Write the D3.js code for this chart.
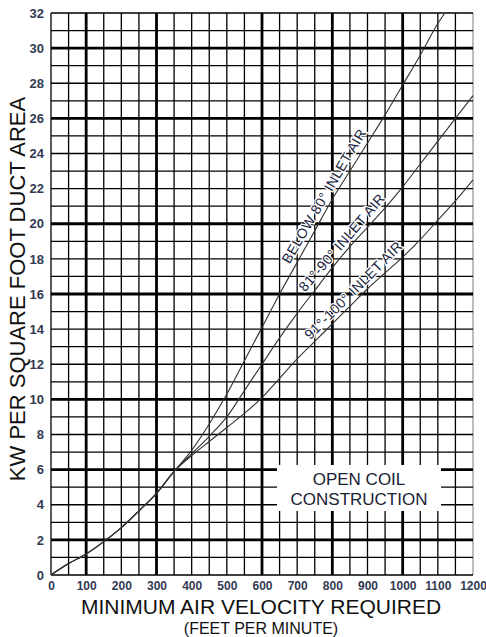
<!DOCTYPE html>
<html>
<head>
<meta charset="utf-8">
<script src="https://cdn.jsdelivr.net/npm/d3@7"></script>
<style>
  body { margin: 0; background: #fff; }
  text { font-family: "Liberation Sans", Arial, sans-serif; }
</style>
</head>
<body>
<div id="chart"></div>
<script>
// chart values
var velocityTicks = [0, 100, 200, 300, 400, 500, 600, 700, 800, 900, 1000, 1100, 1200];
var kwTicks = [0, 2, 4, 6, 8, 10, 12, 14, 16, 18, 20, 22, 24, 26, 28, 30, 32];
var heavyVelocity = [100, 300, 600, 800, 1000];
var heavyKw = [2, 6, 10, 16, 20, 26, 30];

// shared part of the three curves (ft/min, kW per sq ft)
var commonVel = [0, 50, 100, 150, 200, 250, 300, 350];
var commonKw = [0, 0.65, 1.2, 1.9, 2.7, 3.65, 4.65, 5.9];

var below80Vel = [350, 400, 450, 500, 550, 600, 650, 700, 750, 800, 850, 900, 950, 1000, 1050, 1100, 1120];
var below80Kw = [5.9, 7.1, 8.6, 10.3, 12.2, 14.1, 16.0, 17.8, 19.6, 21.4, 23.0, 24.6, 26.2, 27.9, 29.6, 31.4, 32];

var mid81Vel = [350, 400, 450, 500, 550, 600, 650, 700, 750, 800, 850, 900, 950, 1000, 1050, 1100, 1150, 1200];
var mid81Kw = [5.9, 6.9, 7.9, 9.0, 10.5, 12.0, 13.5, 14.9, 16.2, 17.5, 18.7, 19.8, 20.9, 22.1, 23.4, 24.7, 26.0, 27.3];

var high91Vel = [350, 400, 450, 500, 550, 600, 650, 700, 750, 800, 850, 900, 950, 1000, 1050, 1100, 1150, 1200];
var high91Kw = [5.9, 6.8, 7.6, 8.4, 9.2, 10.1, 11.2, 12.3, 13.3, 14.3, 15.3, 16.3, 17.2, 18.1, 19.1, 20.2, 21.3, 22.5];

var curveNames = ["BELOW 80\u00b0 INLET AIR", "81\u00b0-90\u00b0 INLET AIR", "91\u00b0-100\u00b0 INLET AIR"];
var boxLines = ["OPEN COIL", "CONSTRUCTION"];

// layout
var width = 486, height = 637;
var plotL = 51, plotR = 473, plotT = 13, plotB = 575;
var labelAt = [798, 846, 878];   // velocity at middle of each curve label

var svg = d3.select("#chart")
  .append("svg")
  .attr("width", width)
  .attr("height", height);

svg.append("rect").attr("width", width).attr("height", height).attr("fill", "#fff");

var x = d3.scaleLinear().domain([0, 1200]).range([plotL, plotR]);
var y = d3.scaleLinear().domain([0, 32]).range([plotB, plotT]);

// grid - light lines every 50 ft/min and 1 kW, heavy ones picked out
var grid = svg.append("g").attr("class", "grid");

grid.selectAll("line.v")
  .data(d3.range(0, 1201, 50))
  .enter().append("line")
  .attr("class", "v")
  .attr("x1", d => x(d)).attr("x2", d => x(d))
  .attr("y1", y(0)).attr("y2", y(32))
  .attr("stroke", d => d == 1200 ? "#999" : "#000")
  .attr("stroke-width", d => heavyVelocity.indexOf(d) >= 0 ? 2.8 : 1.3);

grid.selectAll("line.h")
  .data(d3.range(0, 33, 1))
  .enter().append("line")
  .attr("class", "h")
  .attr("y1", d => y(d)).attr("y2", d => y(d))
  .attr("x1", x(0)).attr("x2", x(1200))
  .attr("stroke", "#000")
  .attr("stroke-width", d => heavyKw.indexOf(d) >= 0 ? 2.8 : 1.3);

// note box covers the grid
svg.append("rect")
  .attr("x", 277).attr("y", 465)
  .attr("width", 164).attr("height", 46)
  .attr("fill", "#fff");

svg.selectAll("text.box")
  .data(boxLines)
  .enter().append("text")
  .attr("class", "box")
  .attr("x", 359)
  .attr("y", (d, i) => 485 + i * 20)
  .attr("text-anchor", "middle")
  .attr("font-size", 17)
  .attr("fill", "#1b2233")
  .text(d => d);

// axes (labels only, the grid does the lines)
var xAxis = svg.append("g")
  .attr("transform", "translate(0," + (plotB + 4) + ")")
  .call(d3.axisBottom(x).tickValues(velocityTicks).tickFormat(d3.format("d")).tickSize(0).tickPadding(2));
var yAxis = svg.append("g")
  .attr("transform", "translate(" + (plotL - 5) + ",0)")
  .call(d3.axisLeft(y).tickValues(kwTicks).tickFormat(d3.format("d")).tickSize(0).tickPadding(2));

[xAxis, yAxis].forEach(function(a) {
  a.select(".domain").remove();
  a.selectAll("text")
    .attr("font-family", "'Liberation Sans', Arial, sans-serif")
    .attr("font-size", 12)
    .attr("font-weight", "bold")
    .attr("fill", "#323a52");
});
yAxis.selectAll("text").attr("font-size", 13);

// curves
var line = d3.line()
  .x(d => x(d[0]))
  .y(d => y(d[1]))
  .curve(d3.curveMonotoneX);

var pair = (v, k) => v.map((d, i) => [d, k[i]]);
var tables = [
  pair(commonVel, commonKw).concat(pair(below80Vel, below80Kw).slice(1)),
  pair(commonVel, commonKw).concat(pair(mid81Vel, mid81Kw).slice(1)),
  pair(commonVel, commonKw).concat(pair(high91Vel, high91Kw).slice(1))
];

svg.selectAll("path.curve")
  .data(tables)
  .enter().append("path")
  .attr("class", "curve")
  .attr("d", line)
  .attr("fill", "none")
  .attr("stroke", "#333")
  .attr("stroke-width", 1.1);

// curve labels, rotated to the local slope
tables.forEach(function(t, i) {
  var f = d3.scaleLinear().domain(t.map(d => d[0])).range(t.map(d => d[1]));
  var v = labelAt[i];
  var px = x(v), py = y(f(v));
  var ang = Math.atan2(y(f(v + 20)) - y(f(v - 20)), x(v + 20) - x(v - 20)) * 180 / Math.PI;
  svg.append("text")
    .attr("transform", "translate(" + px + "," + py + ") rotate(" + ang + ")")
    .attr("dy", -4)
    .attr("text-anchor", "middle")
    .attr("font-size", 14)
    .attr("letter-spacing", 0.4)
    .attr("fill", "#1b2540")
    .attr("stroke", "#fff")
    .attr("stroke-width", 2.5)
    .attr("paint-order", "stroke")
    .text(curveNames[i]);
});

// axis titles
svg.append("text")
  .attr("x", 261).attr("y", 614)
  .attr("text-anchor", "middle")
  .attr("font-size", 21)
  .attr("fill", "#111")
  .text("MINIMUM AIR VELOCITY REQUIRED");

svg.append("text")
  .attr("x", 261).attr("y", 634)
  .attr("text-anchor", "middle")
  .attr("font-size", 16)
  .attr("fill", "#111")
  .text("(FEET PER MINUTE)");

svg.append("text")
  .attr("transform", "translate(25,289) rotate(-90)")
  .attr("text-anchor", "middle")
  .attr("font-size", 22)
  .attr("fill", "#111")
  .text("KW PER SQUARE FOOT DUCT AREA");
</script>
</body>
</html>
